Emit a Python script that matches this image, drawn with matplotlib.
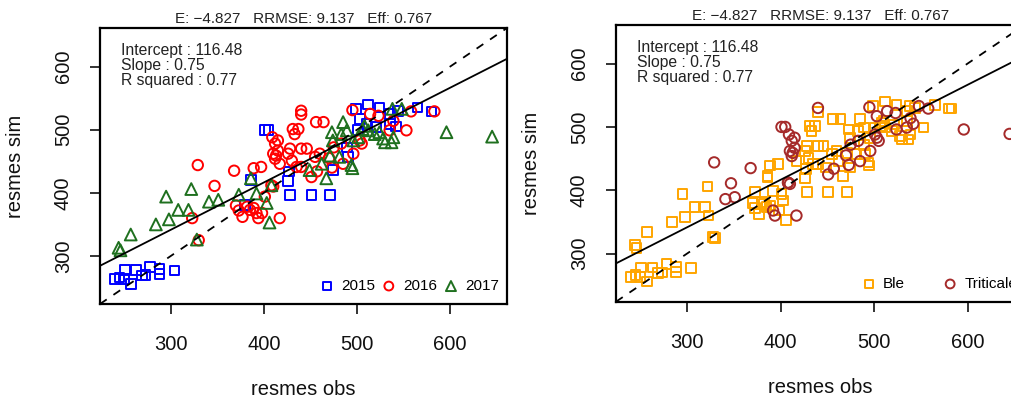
import numpy as np
import matplotlib
matplotlib.use("Agg")
import matplotlib.pyplot as plt

plt.rcParams["font.family"] = ["Liberation Sans", "DejaVu Sans"]

# observed vs simulated values per campaign; crop code per plot (B = Ble, T = Triticale)
obs_2015 = [240, 245, 250, 251, 257, 263, 269, 273, 278, 288, 288, 304,
            380, 386, 401, 405, 426, 427, 428, 451, 471, 474, 489, 490,
            499, 512, 524, 535, 544, 565, 580, 503, 510, 521, 535, 542, 501]
sim_2015 = [263, 266, 263, 278, 256, 278, 269, 270, 283, 279, 271, 277,
            381, 420, 500, 500, 419, 434, 397, 397, 397, 436, 472, 457,
            533, 540, 535, 525, 530, 535, 529, 517, 509, 504, 509, 505, 499]
crop_2015 = list("BBBBBBBBBBBB" "BBTTBBBBBBBB" "BBBBBBBTBBBTB")

obs_2016 = [329, 330, 323, 347, 368, 370, 373, 377, 382, 385, 389, 389, 397, 394, 392, 398, 417, 410, 408, 401,
            409, 412, 415, 410, 413, 412, 417, 415, 426, 428, 430, 431, 433, 437, 435, 440, 440, 440, 446, 440,
            456, 464, 455, 460, 451, 457, 475, 483, 485, 470, 473, 495, 496, 505, 503, 514, 523, 535, 539, 553,
            558, 583]
sim_2016 = [444, 325, 360, 411, 435, 380, 372, 362, 378, 373, 376, 439, 441, 360, 368, 368, 360, 410, 412, 394,
            488, 478, 483, 462, 459, 454, 446, 467, 462, 470, 451, 501, 493, 501, 441, 530, 524, 470, 470, 441,
            512, 512, 457, 462, 425, 434, 472, 478, 446, 455, 440, 531, 462, 478, 483, 525, 522, 499, 514, 499,
            529, 529]
crop_2016 = list("TBBTTBBBBBBBBTTBTTTB" "TTTTTTBTBBBBBBBTBBBB" "BBBBTTTTTTTTTTTTTTTB" "TB")

obs_2017 = [244, 246, 257, 284, 295, 298, 308, 322, 319, 328, 341, 351, 373, 386, 392, 403, 406, 408,
            449, 462, 467, 471, 473, 474, 481, 485, 483, 489, 494, 495, 496, 501, 506, 512, 508, 519,
            524, 528, 530, 537, 539, 538, 548, 596, 645]
sim_2017 = [313, 309, 334, 350, 394, 358, 373, 406, 373, 326, 386, 389, 397, 423, 399, 384, 353, 412,
            436, 446, 423, 459, 496, 483, 457, 512, 493, 499, 444, 439, 483, 488, 501, 499, 506, 493,
            496, 486, 480, 480, 488, 533, 533, 496, 489]
crop_2017 = list("BBBBBBBBBBTTBBBBBT" "BBBBBBBBBBBBBTBBBB" "TBBBBBTTT")

years = ["2015", "2016", "2017"]
year_colors = ["#0000FF", "#FF0000", "#1F701F"]
year_markers = ["s", "o", "^"]
year_sizes = [7, 7.5, 8.5]

crops = ["Ble", "Triticale"]
crop_codes = ["B", "T"]
crop_colors = ["#FFA500", "#A52A2A"]
crop_markers = ["s", "o"]
crop_sizes = [7, 7.5]

intercept, slope, r2 = 116.48, 0.75, 0.77
stats_title = "E: \u22124.827   RRMSE: 9.137   Eff: 0.767"
lims = (224, 661)
ticks = [300, 400, 500, 600]


def style_axes(ax):
    ax.set_xlim(lims)
    ax.set_ylim(lims)
    ax.set_xticks(ticks)
    ax.set_yticks(ticks)
    ax.tick_params(length=7.5, width=1.2, labelsize=14.5, colors="#111111")
    ax.tick_params(axis="x", pad=15)
    ax.tick_params(axis="y", pad=12)
    plt.setp(ax.get_yticklabels(), rotation=90, va="center")
    for s in ax.spines.values():
        s.set_linewidth(1.6)
    # fitted regression and 1:1 reference
    ax.axline((0, intercept), slope=slope, color="black", lw=1.3, zorder=5)
    ax.axline((0, 0), slope=1, color="black", lw=1.3, ls=(0, (4.5, 4.5)), zorder=5)
    ax.text(0.052, 0.945, f"Intercept : {intercept:.2f}\nSlope : {slope:.2f}\nR squared : {r2:.2f}",
            transform=ax.transAxes, ha="left", va="top", fontsize=11.3, linespacing=0.98, color="#222222")
    ax.annotate(stats_title, xy=(0.5, 1), xycoords="axes fraction", xytext=(0, 9),
                textcoords="offset pixels", ha="center", va="center", fontsize=11, color="#222222")
    ax.set_xlabel("resmes obs", fontsize=14.5, color="#111111")
    ax.set_ylabel("resmes sim", fontsize=14.5, color="#111111")
    ax.xaxis.label.set_va("center")
    ax.yaxis.label.set_va("center")


fig = plt.figure(figsize=(10.12, 4.03), dpi=100)
ax1 = fig.add_axes([0.0988, 0.2457, 0.4022, 0.6848])
ax2 = fig.add_axes([0.6087, 0.2514, 0.4037, 0.6866])

# left: points coloured by campaign
obs_by_year = [obs_2015, obs_2016, obs_2017]
sim_by_year = [sim_2015, sim_2016, sim_2017]
handles = []
for yr, o, s, c, m, ms in zip(years, obs_by_year, sim_by_year, year_colors, year_markers, year_sizes):
    h = ax1.scatter(o, s, s=ms ** 2, marker=m, facecolors="none", edgecolors=c, linewidths=1.4, label=yr)
    handles.append(h)
style_axes(ax1)
ax1.legend(handles=handles, loc="center right", bbox_to_anchor=(0.980, 0.065), ncol=3, frameon=False,
           fontsize=11, handlelength=0.8, handletextpad=0.52, columnspacing=0.52, borderpad=0,
           borderaxespad=0, scatterpoints=1, markerscale=0.85)
ax1.yaxis.set_label_coords(-84 / 407, 0.5)
ax1.xaxis.set_label_coords(0.5, -86 / 276)

# right: same points coloured by crop
all_obs = np.array(obs_2015 + obs_2016 + obs_2017)
all_sim = np.array(sim_2015 + sim_2016 + sim_2017)
all_crop = np.array(crop_2015 + crop_2016 + crop_2017)
handles = []
for name, code, c, m, ms in zip(crops, crop_codes, crop_colors, crop_markers, crop_sizes):
    sel = all_crop == code
    h = ax2.scatter(all_obs[sel], all_sim[sel], s=ms ** 2, marker=m, facecolors="none", edgecolors=c,
                    linewidths=1.4, label=name)
    handles.append(h)
style_axes(ax2)
ax2.legend(handles=handles, loc="center right", bbox_to_anchor=(0.9817, 0.064), ncol=2, frameon=False,
           fontsize=11, handlelength=0.8, handletextpad=0.52, columnspacing=2.55, borderpad=0,
           borderaxespad=0, scatterpoints=1, markerscale=0.85)
ax2.yaxis.set_label_coords(-84 / 408.5, 0.5)
ax2.xaxis.set_label_coords(0.5, -86 / 276.7)

fig.savefig("out.png", dpi=100)
